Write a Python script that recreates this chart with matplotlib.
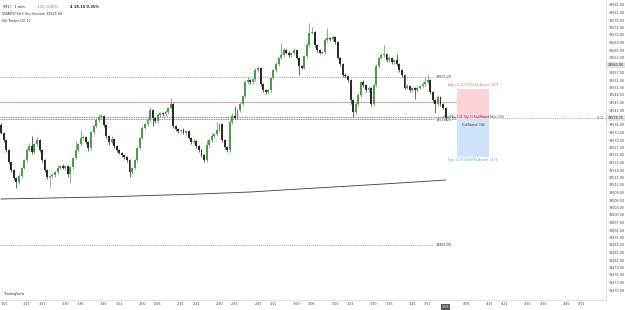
import matplotlib
matplotlib.use("Agg")
import matplotlib.pyplot as plt
from matplotlib.patches import Rectangle
import numpy as np

# ---------------- data ----------------
first_open = 39536.0
closes = [
    39532.8, 39530.0, 39526.0, 39521.2, 39518.0, 39514.8, 39513.2, 39515.6, 39518.8, 39522.0,
    39526.0, 39527.6, 39525.2, 39528.4, 39530.0, 39526.0, 39522.0, 39518.0, 39515.2, 39515.6,
    39516.0, 39517.2, 39518.8, 39519.6, 39518.8, 39519.6, 39516.4, 39519.2, 39522.8, 39526.0,
    39528.4, 39530.8, 39531.2, 39529.2, 39526.8, 39533.2, 39535.6, 39538.0, 39539.2, 39539.6,
    39536.0, 39531.6, 39529.2, 39530.4, 39527.6, 39526.0, 39524.8, 39524.0, 39523.2, 39522.0,
    39517.2, 39518.8, 39522.0, 39526.8, 39530.8, 39534.8, 39536.4, 39538.0, 39542.0, 39538.8,
    39537.6, 39540.0, 39540.8, 39540.4, 39541.2, 39542.8, 39544.4, 39535.6, 39534.4, 39533.6,
    39534.0, 39532.8, 39533.6, 39530.8, 39529.2, 39529.6, 39527.6, 39526.0, 39524.0, 39522.0,
    39528.0, 39530.0, 39531.6, 39532.4, 39534.0, 39536.4, 39530.0, 39527.2, 39526.0, 39537.2,
    39539.6, 39538.8, 39542.0, 39544.4, 39547.6, 39553.2, 39554.0, 39553.2, 39554.4, 39558.0,
    39558.8, 39552.4, 39550.0, 39549.2, 39550.0, 39554.8, 39558.0, 39560.4, 39562.8, 39564.0,
    39566.0, 39564.8, 39564.0, 39564.8, 39566.0, 39562.8, 39559.6, 39558.8, 39563.6, 39568.0,
    39572.8, 39573.2, 39568.0, 39566.0, 39564.8, 39565.2, 39570.0, 39570.8, 39570.4, 39571.2,
    39569.2, 39562.8, 39560.4, 39556.0, 39555.6, 39554.0, 39546.0, 39541.2, 39544.4, 39548.0,
    39553.2, 39552.0, 39550.0, 39550.8, 39544.4, 39552.0, 39559.6, 39562.8, 39564.0, 39564.4,
    39562.0, 39562.8, 39561.2, 39562.0, 39560.4, 39558.0, 39556.0, 39550.8, 39551.6, 39550.0,
    39550.8, 39550.0, 39550.8, 39551.6, 39552.4, 39553.2, 39554.0, 39549.2, 39546.0, 39544.4,
    39547.2, 39544.4, 39542.8, 39539.2,
]
wick_up = [
    0.8, 0.6, 0.6, 0.6, 0.6, 0.6, 0.6, 0.8, 0.6, 0.6,
    0.8, 1.2, 4.0, 0.6, 1.2, 0.6, 0.6, 0.6, 0.6, 0.6,
    0.8, 0.6, 1.2, 0.6, 0.8, 0.6, 0.6, 0.6, 0.6, 3.6,
    0.6, 3.2, 0.8, 0.6, 0.6, 0.6, 0.8, 0.6, 1.2, 0.8,
    0.6, 0.6, 0.6, 1.2, 0.6, 0.6, 0.6, 0.6, 0.6, 0.6,
    0.6, 0.6, 0.6, 0.6, 0.6, 0.8, 0.6, 0.8, 1.2, 0.6,
    0.6, 0.8, 0.6, 0.6, 0.8, 0.6, 2.4, 0.6, 0.6, 0.6,
    0.6, 0.8, 0.6, 0.6, 0.6, 0.8, 0.6, 0.6, 0.6, 0.6,
    2.0, 0.6, 1.2, 0.6, 3.2, 0.6, 0.6, 0.6, 0.6, 0.8,
    1.2, 4.0, 0.6, 0.8, 0.6, 0.8, 1.2, 0.6, 0.6, 0.8,
    0.8, 0.6, 0.6, 0.6, 0.6, 0.6, 0.6, 0.8, 0.6, 4.8,
    0.8, 0.6, 0.8, 0.6, 0.8, 0.6, 0.6, 0.6, 0.6, 0.8,
    4.0, 2.0, 0.6, 0.6, 0.6, 0.6, 0.8, 4.0, 0.6, 0.8,
    0.6, 0.6, 0.6, 0.6, 0.8, 0.6, 0.6, 0.6, 1.0, 0.8,
    0.6, 1.0, 0.6, 0.8, 0.6, 0.6, 0.8, 0.6, 0.8, 3.6,
    0.6, 0.8, 0.6, 0.6, 2.4, 0.6, 0.6, 0.6, 0.8, 0.6,
    0.6, 0.6, 0.8, 0.6, 0.8, 2.0, 2.4, 0.6, 0.6, 0.6,
    0.8, 0.6, 0.6, 0.6,
]
wick_dn = [
    0.6, 0.6, 0.6, 0.6, 0.6, 0.8, 2.4, 0.6, 0.6, 0.6,
    0.6, 0.6, 0.8, 0.6, 0.6, 0.6, 0.6, 0.6, 0.8, 4.0,
    0.6, 0.8, 0.6, 0.6, 0.6, 0.8, 1.2, 3.6, 0.6, 0.6,
    0.6, 0.6, 0.6, 0.8, 1.2, 0.8, 0.6, 0.6, 0.6, 0.6,
    0.6, 0.6, 1.2, 0.6, 0.6, 0.8, 0.6, 0.6, 0.8, 0.6,
    2.0, 0.6, 0.6, 0.6, 0.6, 0.6, 0.6, 0.6, 0.6, 3.2,
    0.6, 0.6, 0.8, 0.6, 0.6, 0.6, 0.6, 0.6, 0.8, 0.6,
    0.6, 0.6, 0.8, 0.6, 0.6, 0.6, 0.8, 0.6, 0.6, 0.8,
    0.6, 0.6, 0.6, 0.6, 0.6, 0.6, 0.8, 0.6, 0.8, 0.6,
    0.6, 0.6, 0.6, 0.6, 0.6, 0.6, 0.8, 0.6, 0.6, 0.6,
    0.6, 0.6, 0.8, 0.6, 0.6, 0.6, 0.6, 0.6, 0.6, 0.6,
    0.6, 0.6, 0.6, 0.6, 0.6, 0.6, 3.6, 0.6, 0.6, 0.6,
    0.6, 0.6, 0.6, 0.8, 0.6, 0.6, 0.6, 0.6, 0.6, 0.6,
    0.6, 0.6, 0.8, 0.6, 0.6, 0.6, 1.6, 2.0, 0.6, 0.6,
    0.6, 0.6, 0.8, 0.6, 0.8, 0.6, 0.6, 0.6, 0.6, 0.6,
    0.6, 0.6, 0.6, 0.6, 0.6, 0.6, 0.8, 0.6, 0.6, 0.6,
    0.6, 3.6, 0.6, 0.6, 0.6, 0.6, 0.6, 0.6, 0.8, 3.6,
    0.6, 0.8, 0.6, 1.2,
]

ma_index = [0, 39, 77, 97, 116, 136, 155, 173]
ma_values = [39506.4, 39507.2, 39508.4, 39509.2, 39510.4, 39511.6, 39512.8, 39514.0]

level_upper = 39555.25
level_pink = 39545.25
level_dark1 = 39539.25
level_dark2 = 39538.25
level_lower = 39488.00
current_price = 39538.75
marked_price = 39560.00

rr_entry = 39538.00
rr_target = 39550.25
rr_stop = 39523.25

time_labels = ["1:05", "1:15", "1:21", "1:30", "1:36", "1:45", "1:51", "2:00", "2:06",
               "2:15", "2:21", "2:30", "2:36", "2:45", "2:51", "3:00", "3:06", "3:15",
               "3:21", "3:30", "3:36", "3:45", "3:51", "4:06", "4:15", "4:21", "4:30",
               "4:36", "4:45", "4:51"]
current_time = "3:58"
start_time = "1:05"

# ---------------- derived ----------------
def minutes(t):
    h, m = t.split(":")
    return int(h) * 60 + int(m)

t0 = minutes(start_time)
n = len(closes)
idx = np.arange(n)
c = np.array(closes)
o = np.concatenate([[first_open], c[:-1]])
hi = np.maximum(o, c) + np.array(wick_up)
lo = np.minimum(o, c) - np.array(wick_dn)
up = c >= o

GREEN = "#4f9a4f"
DARK = "#2b2b2b"
YMIN, YMAX = 39466, 39586

fig = plt.figure(figsize=(6.25, 3.10), dpi=100)
ax = fig.add_axes([0, 10 / 310, 606 / 625, 300 / 310])
ax.set_xlim(-0.4, 235.4)
ax.set_ylim(YMIN, YMAX)

# MA
ax.plot(ma_index, ma_values, color="#3a3a3a", lw=0.6, zorder=2)

# levels
ax.hlines(level_upper, -0.4, 168.5, color="#8a8a8a", lw=0.5, ls=(0, (1.5, 1.5)), zorder=1)
ax.hlines(level_lower, -0.4, 168.5, color="#8a8a8a", lw=0.5, ls=(0, (1.5, 1.5)), zorder=1)
ax.hlines(level_pink, -0.4, 177.4, color="#e79aa3", lw=0.7, zorder=1)
ax.hlines([level_dark1, level_dark2], -0.4, 177.4, color="#555555", lw=0.5,
          ls=(0, (1.5, 1.0)), zorder=1)
ax.hlines(current_price, 173, 235.4, color="#9a9a9a", lw=0.5, ls=(0, (1.5, 1.5)), zorder=1)

fs = 2.4
ax.text(169.0, level_upper, f"{level_upper:.2f}", fontsize=fs, va="center", ha="left", color="#333")
ax.text(169.0, level_lower, f"{level_lower:.2f}", fontsize=fs, va="center", ha="left", color="#333")
ax.text(169.0, level_dark2 - 0.2, f"{level_dark1:.2f}", fontsize=fs, va="center", ha="left",
        color="#333", bbox=dict(boxstyle="square,pad=0.1", fc="white", ec="none"))

# risk / reward box
x0, x1 = 177.4, 189.9
ax.add_patch(Rectangle((x0, rr_entry), x1 - x0, rr_target - rr_entry, fc="#fcd3d7", ec="none", zorder=1))
ax.add_patch(Rectangle((x0, rr_stop), x1 - x0, rr_entry - rr_stop, fc="#cfe4fa", ec="none", zorder=1))
xm = (x0 + x1) / 2
ax.text(xm, rr_target + 0.8, "Target: 12.25 (0.03%) 49, Amount: 12.25", fontsize=1.8,
        color="#e06070", ha="center", va="bottom")
ax.text(xm, rr_entry + 0.3, "Open P&L: 1.25, Qty: 1 | Risk/Reward Ratio: 0.84", fontsize=1.8,
        color="#333", ha="center", va="bottom")
ax.text(xm, rr_entry - 1.0, "Risk/Reward: 0.84", fontsize=1.8, color="#333", ha="center", va="top")
ax.text(xm, rr_stop - 0.3, "Stop: 14.75 (0.04%) 59, Amount: 14.75", fontsize=1.8,
        color="#4a90d9", ha="center", va="top")

# candles
ax.vlines(idx, lo, hi, colors=np.where(up, GREEN, DARK), lw=0.5, zorder=3)
body_lo = np.minimum(o, c)
body_h = np.maximum(np.abs(c - o), 0.3)
ax.bar(idx, body_h, bottom=body_lo, width=0.75, color=np.where(up, GREEN, DARK),
       linewidth=0, zorder=4)

# axes styling
for s in ["top", "left"]:
    ax.spines[s].set_visible(False)
for s in ["right", "bottom"]:
    ax.spines[s].set_color("#d8d8d8")
    ax.spines[s].set_linewidth(0.6)

yt = np.arange(39584, YMIN + 1, -3.0)
yt = [v for v in yt if abs(v - current_price) > 1.5 and abs(v - marked_price) > 1.5]
ax.yaxis.tick_right()
ax.set_yticks(yt)
ax.set_yticklabels([f"{v:.2f}" for v in yt], fontsize=fs, color="#444")
ax.tick_params(axis="y", length=0, pad=2)

tpos = [minutes(t) - t0 for t in time_labels]
ax.set_xticks(tpos)
ax.set_xticklabels(time_labels, fontsize=fs, color="#444")
ax.tick_params(axis="x", length=0, pad=1.5)
ax.get_xticklabels()[0].set_horizontalalignment("left")

# axis highlight labels
ax.text(1.003, (current_price - YMIN) / (YMAX - YMIN), f"{current_price:.2f}", transform=ax.transAxes,
        fontsize=fs, color="#222", va="center", ha="left",
        bbox=dict(boxstyle="square,pad=0.25", fc="#e3e3e3", ec="none"), zorder=10)
ax.text(1.003, (marked_price - YMIN) / (YMAX - YMIN), f"{marked_price:.2f}", transform=ax.transAxes,
        fontsize=fs, color="#222", va="center", ha="left",
        bbox=dict(boxstyle="square,pad=0.25", fc="#e3e3e3", ec="none"), zorder=10)
ax.text(0.997, (current_price - YMIN) / (YMAX - YMIN), "00:15", transform=ax.transAxes,
        fontsize=1.9, color="#555", va="center", ha="right")
ax.text(minutes(current_time) - t0, -0.017, current_time, transform=ax.get_xaxis_transform(),
        fontsize=fs, color="white", va="top", ha="center",
        bbox=dict(boxstyle="square,pad=0.25", fc="#555555", ec="none"), zorder=10)

# header texts
fig.text(0.004, 0.985, "YM1! · 1 min", fontsize=2.6, color="#222", va="top", ha="left")
fig.text(0.058, 0.985, "-101 -0.26%", fontsize=2.6, color="#e05060", va="top", ha="left")
fig.text(0.112, 0.985, "4 19.15 0.35%", fontsize=2.6, color="#222", va="top", ha="left",
         fontweight="bold")
fig.text(0.004, 0.962, "VWAP/D hlc3 Ses Session 39525.68", fontsize=2.4, color="#333",
         va="top", ha="left")
fig.text(0.004, 0.939, "Vol Trades (D) 1L", fontsize=2.4, color="#333", va="top", ha="left")
fig.text(0.006, 0.045, "TradingView", fontsize=2.4, color="#333", va="bottom", ha="left")

fig.savefig("out.png", dpi=100, facecolor="white")
